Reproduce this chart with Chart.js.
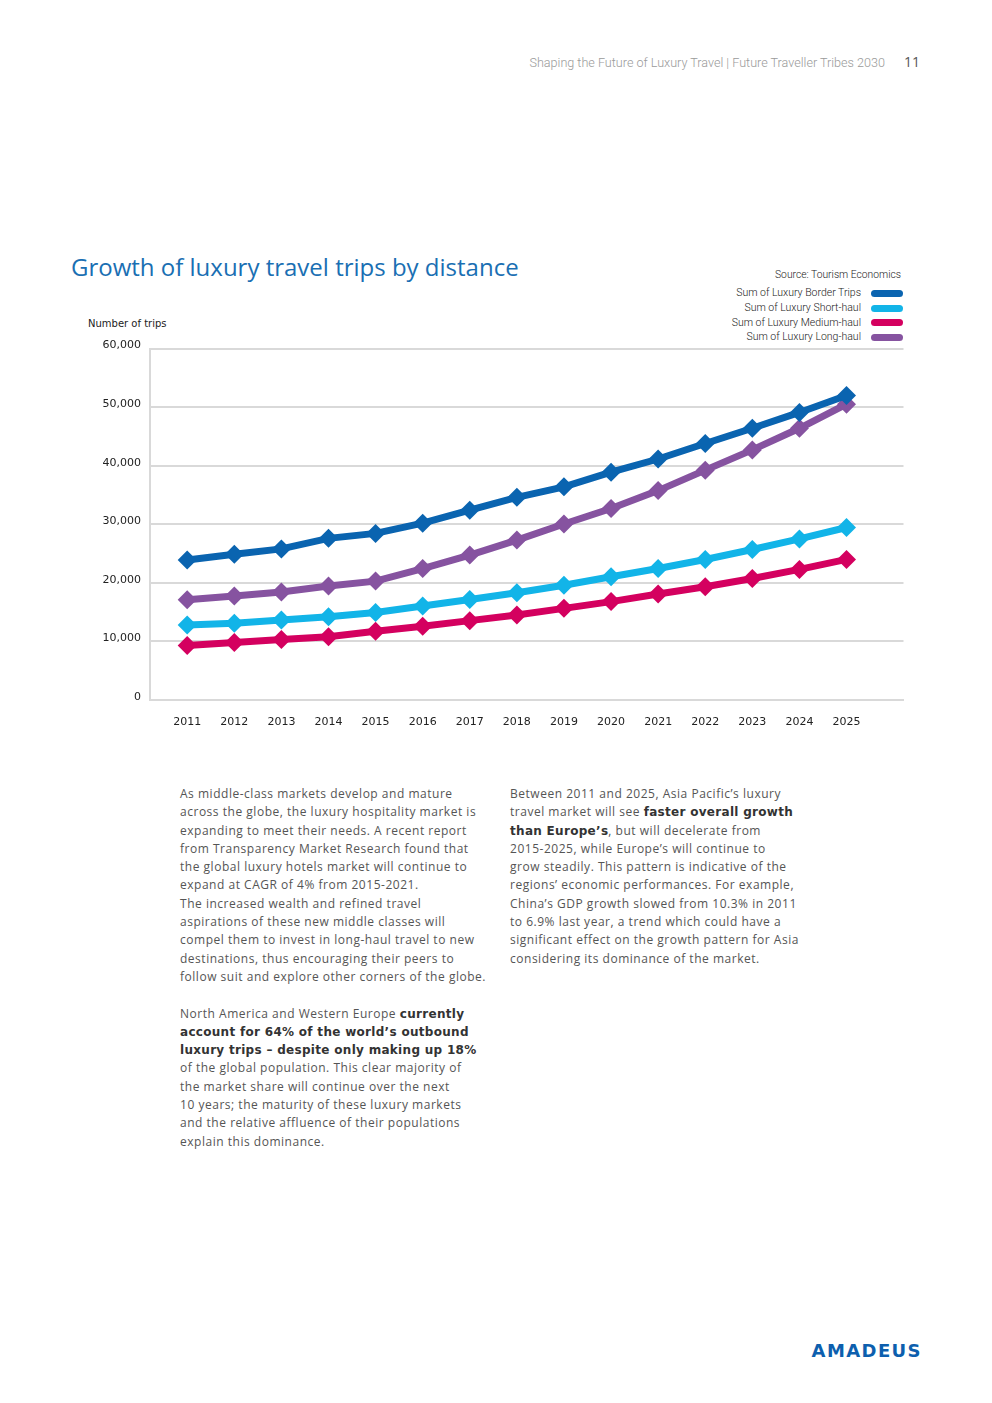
<!DOCTYPE html>
<html>
<head>
<meta charset="utf-8">
<script src="https://cdn.jsdelivr.net/npm/chart.js@4.4.0/dist/chart.umd.min.js"></script>
<style>
  html, body { margin:0; padding:0; background:#fff; }
  body { width:992px; height:1403px; position:relative; overflow:hidden; font-family:"Open Sans", sans-serif; }
  .abs { position:absolute; white-space:nowrap; }
  #header { right:107px; top:54px; font-family:"Roboto", sans-serif; font-weight:300; font-size:12.6px; color:#9a9a9a; line-height:18px; }
  #pagenum { right:72px; top:53px; font-family:"Open Sans", sans-serif; font-size:14px; color:#555; line-height:18px; }
  #title { left:71px; top:250px; font-family:"Open Sans", sans-serif; font-size:24px; color:#1a6fb3; line-height:34px; }
  #source { right:91px; top:268px; font-family:"Roboto", sans-serif; font-weight:300; font-size:10.3px; color:#222; line-height:14px; }
  #legend { right:89px; top:286px; font-family:"Roboto", sans-serif; font-weight:300; font-size:10.5px; color:#222; }
  .lrow { height:14.8px; line-height:14.8px; display:flex; align-items:center; justify-content:flex-end; }
  .sw { display:inline-block; width:32px; height:7px; border-radius:4px; margin-left:10px; }
  #ytitle { left:88px; top:318px; font-family:"DejaVu Sans", sans-serif; font-size:10px; color:#222; line-height:12px; }
  #chartwrap { position:absolute; left:80px; top:333px; width:833px; height:397px; }
  .col { position:absolute; font-family:"Open Sans", sans-serif; font-size:12px; color:#555; line-height:18.3px; letter-spacing:0.52px; white-space:nowrap; }
  .col b { color:#333; font-family:"DejaVu Sans", sans-serif; font-weight:700; letter-spacing:0.3px; font-size:12px; }
  #logo { right:70px; top:1331px; font-family:"DejaVu Sans", sans-serif; font-weight:900; font-size:26px; color:#0d5fae; letter-spacing:1.4px; font-variant-caps:all-small-caps; line-height:34px; }
</style>
</head>
<body>
<div id="header" class="abs">Shaping the Future of Luxury Travel | Future Traveller Tribes 2030</div>
<div id="pagenum" class="abs">11</div>
<div id="title" class="abs">Growth of luxury travel trips by distance</div>
<div id="source" class="abs">Source: Tourism Economics</div>
<div id="legend" class="abs"></div>
<div id="ytitle" class="abs">Number of trips</div>
<div id="chartwrap"><canvas id="c" width="833" height="397"></canvas></div>

<div class="col" style="left:180px; top:785px;">
As middle-class markets develop and mature<br>
across the globe, the luxury hospitality market is<br>
expanding to meet their needs. A recent report<br>
from Transparency Market Research found that<br>
the global luxury hotels market will continue to<br>
expand at CAGR of 4% from 2015-2021.<br>
The increased wealth and refined travel<br>
aspirations of these new middle classes will<br>
compel them to invest in long-haul travel to new<br>
destinations, thus encouraging their peers to<br>
follow suit and explore other corners of the globe.<br>
<br>
North America and Western Europe <b>currently</b><br>
<b>account for 64% of the world’s outbound</b><br>
<b>luxury trips – despite only making up 18%</b><br>
of the global population. This clear majority of<br>
the market share will continue over the next<br>
10 years; the maturity of these luxury markets<br>
and the relative affluence of their populations<br>
explain this dominance.
</div>

<div class="col" style="left:510px; top:785px;">
Between 2011 and 2025, Asia Pacific’s luxury<br>
travel market will see <b>faster overall growth</b><br>
<b>than Europe’s</b>, but will decelerate from<br>
2015-2025, while Europe’s will continue to<br>
grow steadily. This pattern is indicative of the<br>
regions’ economic performances. For example,<br>
China’s GDP growth slowed from 10.3% in 2011<br>
to 6.9% last year, a trend which could have a<br>
significant effect on the growth pattern for Asia<br>
considering its dominance of the market.
</div>

<div id="logo" class="abs">amadeus</div>

<script>
const years = [2011,2012,2013,2014,2015,2016,2017,2018,2019,2020,2021,2022,2023,2024,2025];
const seriesNames = ["Sum of Luxury Border Trips","Sum of Luxury Short-haul","Sum of Luxury Medium-haul","Sum of Luxury Long-haul"];
const borderTrips = [23900,24900,25800,27600,28450,30200,32400,34600,36400,38900,41150,43800,46400,49100,52000];
const shortHaul   = [12800,13100,13650,14200,14950,16050,17150,18300,19600,21050,22450,24000,25700,27500,29450];
const mediumHaul  = [9300,9800,10350,10800,11750,12600,13550,14500,15650,16800,18100,19350,20750,22300,24000];
const longHaul    = [17100,17750,18450,19450,20300,22450,24750,27300,30050,32700,35750,39250,42700,46400,50500];
const yTicks = [0,10000,20000,30000,40000,50000,60000];
const seriesColors = ["#0a64b0","#12b4e8","#d4005f","#8653a0"];
const seriesValues = [borderTrips, shortHaul, mediumHaul, longHaul];

// HTML legend
const leg = document.getElementById('legend');
seriesNames.forEach((n,i)=>{
  const r = document.createElement('div'); r.className='lrow';
  const t = document.createElement('span'); t.textContent = n;
  const s = document.createElement('span'); s.className='sw'; s.style.background = seriesColors[i];
  r.appendChild(t); r.appendChild(s); leg.appendChild(r);
});

const tickFont = { family: "DejaVu Sans", size: 11 };
new Chart(document.getElementById('c'), {
  type: 'line',
  data: {
    datasets: seriesNames.map((n,i)=>({
      label: n,
      data: years.map((y,j)=>({x:y, y:seriesValues[i][j]})),
      borderColor: seriesColors[i],
      backgroundColor: seriesColors[i],
      borderWidth: 7,
      pointStyle: 'rectRot',
      pointRadius: 9.5,
      pointBorderWidth: 0,
      tension: 0,
      fill: false
    }))
  },
  options: {
    responsive: false,
    animation: false,
    events: [],
    layout: { padding: { top: 10, right: 4, left: 0, bottom: 0 } },
    plugins: { legend: { display: false }, tooltip: { enabled: false } },
    scales: {
      x: {
        type: 'linear', min: 2010.21, max: 2026.21,
        afterBuildTicks: a => { a.ticks = years.map(v => ({ value: v })); },
        afterFit: a => { a.height = 30; },
        ticks: { callback: v => String(v), padding: 16, font: tickFont, color: '#222', maxRotation: 0, autoSkip: false },
        grid: { display: false, drawTicks: false },
        border: { display: true, color: '#d9d9d9', width: 2 }
      },
      y: {
        min: 0, max: 60000,
        afterBuildTicks: a => { a.ticks = yTicks.map(v => ({ value: v })); },
        afterFit: a => { a.width = 70; },
        ticks: { callback: v => v.toLocaleString('en-US'), padding: 9, labelOffset: -3, font: tickFont, color: '#222' },
        grid: { color: '#d9d9d9', lineWidth: 2, drawTicks: false },
        border: { display: true, color: '#d9d9d9', width: 2 }
      }
    }
  }
});
</script>
</body>
</html>
